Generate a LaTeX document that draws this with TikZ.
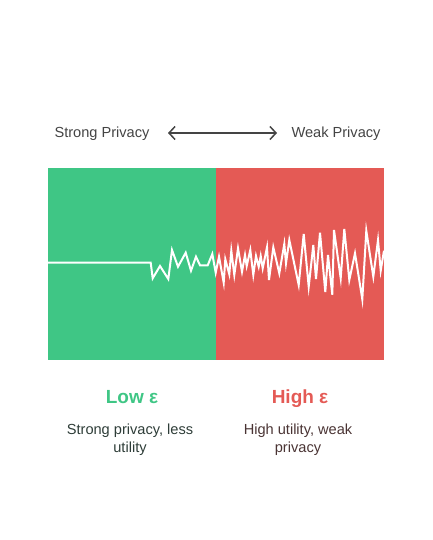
\documentclass[tikz,border=0pt]{standalone}
\usepackage{fontspec}
\setmainfont{Liberation Sans}
\usetikzlibrary{arrows.meta}
\definecolor{grn}{HTML}{3FC685}
\definecolor{rd}{HTML}{E45A55}
\definecolor{txtgray}{HTML}{444444}
\definecolor{txtgrn}{HTML}{2E3D38}
\definecolor{txtred}{HTML}{4A3434}
\begin{document}
\begin{tikzpicture}[x=1pt,y=-1pt,
  toplabel/.style={font=\fontsize{14.6}{17}\selectfont, text=txtgray, inner sep=0pt, anchor=base},
  head/.style={font=\fontsize{19}{22}\selectfont\bfseries, inner sep=0pt, anchor=base},
  desc/.style={font=\fontsize{14.6}{18}\selectfont, align=center, inner sep=0pt, anchor=base},
  wave/.style={white, line width=2pt, line join=miter}]
\useasboundingbox (0,0) rectangle (432,540);
\fill[grn] (48,168) rectangle (216,360);
\fill[rd] (216,168) rectangle (384,360);
\node[toplabel] (sp) at (102,137.5) {Strong Privacy};
\node[toplabel] (wp) at (336,137.5) {Weak Privacy};
\coordinate (al) at (168,133);
\coordinate (ar) at (277,133);
\draw[txtgray, line width=1.5pt, {Straight Barb[length=6pt,width=13pt]}-{Straight Barb[length=6pt,width=13pt]}] (al) -- (ar);
\draw[wave] (48,262.7) -- (150.7,262.7) -- (152.7,278.3) -- (160,266) -- (168.3,279) -- (172,250) -- (178,266.7) -- (185.7,252.7) -- (191,270.7) -- (196,256.7) -- (200,265.3) -- (207.7,265.3) -- (212.3,254) -- (215.7,272.7) -- (219,256.7) -- (223.7,282.7) -- (225.3,259.3) -- (229.3,274.3) -- (231.3,250.7) -- (234.3,275) -- (238,248.3) -- (242,271.7) -- (245,255) -- (246.7,266) -- (250.3,250) -- (253.3,275) -- (256,256) -- (258.7,266.7) -- (260.7,256) -- (262.7,268.3) -- (267,247.3) -- (269,280) -- (273.3,247.3) -- (279.3,273.3) -- (284.3,244) -- (286,263.3) -- (289.3,240) -- (298.7,285) -- (303.7,234) -- (308.7,286.7) -- (313.3,245) -- (316,279) -- (320,232.7) -- (325.3,292) -- (328,255) -- (332.3,294.7) -- (334,230) -- (340.7,278.3) -- (344.3,229) -- (349.3,280) -- (355,253.3) -- (362.3,299.3) -- (366.3,230.7) -- (373.3,276.7) -- (378,240) -- (380.7,270.7) -- (384,250.7);
\node[head, text=grn] (low) at (132,403) {Low ε};
\node[head, text=rd] (high) at (300,403) {High ε};
\node[desc, text=txtgrn] (ld) at (130,452) {Strong privacy, less\\utility};
\node[desc, text=txtred] (hd) at (298,452) {High utility, weak\\privacy};
\end{tikzpicture}
\end{document}
